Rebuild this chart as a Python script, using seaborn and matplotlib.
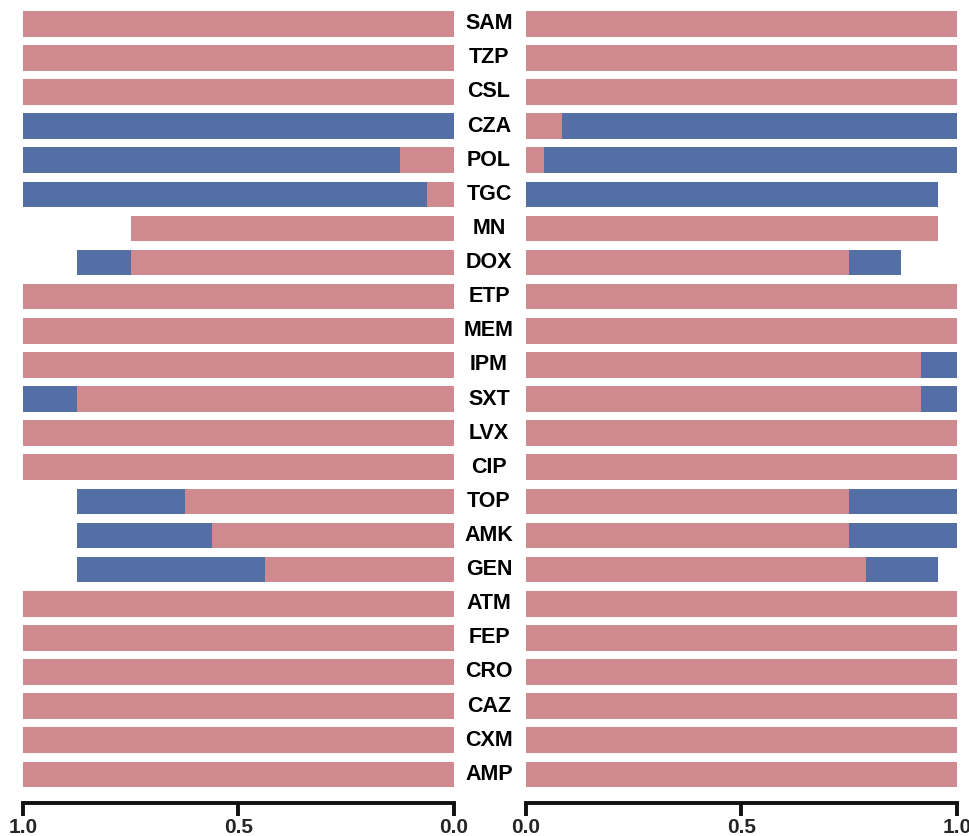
import numpy as np
import pandas as pd
import matplotlib
matplotlib.use("Agg")
import matplotlib.pyplot as plt
import matplotlib.transforms as mtransforms
import seaborn as sns

drugs = ["SAM", "TZP", "CSL", "CZA", "POL", "TGC", "MN", "DOX", "ETP", "MEM",
         "IPM", "SXT", "LVX", "CIP", "TOP", "AMK", "GEN", "ATM", "FEP", "CRO",
         "CAZ", "CXM", "AMP"]

# left panel (axis runs 1.0 -> 0.0)
left_pink = [1, 1, 1, 0, 0.125, 0.0625, 0.75, 0.75, 1, 1,
             1, 0.875, 1, 1, 0.625, 0.5625, 0.4375, 1, 1, 1,
             1, 1, 1]
left_blue = [0, 0, 0, 1, 0.875, 0.9375, 0, 0.125, 0, 0,
             0, 0.125, 0, 0, 0.25, 0.3125, 0.4375, 0, 0, 0,
             0, 0, 0]

# right panel (axis runs 0.0 -> 1.0)
right_pink = [1, 1, 1, 0.083, 0.042, 0, 0.955, 0.75, 1, 1,
              0.917, 0.917, 1, 1, 0.75, 0.75, 0.79, 1, 1, 1,
              1, 1, 1]
right_blue = [0, 0, 0, 0.917, 0.958, 0.955, 0, 0.12, 0, 0,
              0.083, 0.083, 0, 0, 0.25, 0.25, 0.165, 0, 0, 0,
              0, 0, 0]

ticks = [0.0, 0.5, 1.0]
tick_labels = ["0.0", "0.5", "1.0"]

PINK = "#CF8A90"
BLUE = "#536FA6"

sns.set_style("white")
plt.rcParams["font.family"] = ["Liberation Sans", "DejaVu Sans"]

fig = plt.figure(figsize=(9.70, 8.36), dpi=100)
W, H = 970, 836
ax_top_px, ax_bot_px = 6.7, 803
axL = fig.add_axes([23 / W, (H - ax_bot_px) / H, 431 / W, (ax_bot_px - ax_top_px) / H])
axR = fig.add_axes([526 / W, (H - ax_bot_px) / H, 431 / W, (ax_bot_px - ax_top_px) / H])


def draw_panel(ax, pink, blue):
    df = pd.DataFrame({"drug": drugs,
                       "pink": pink,
                       "total": np.array(pink) + np.array(blue)})
    # stacked bars: the blue segment sits after the pink one
    sns.barplot(data=df, y="drug", x="total", orient="h", color=BLUE,
                saturation=1, width=0.75, ax=ax, order=drugs, linewidth=0)
    sns.barplot(data=df, y="drug", x="pink", orient="h", color=PINK,
                saturation=1, width=0.75, ax=ax, order=drugs, linewidth=0)
    ax.set_ylim(22.84, -0.5)
    ax.set_yticks([])
    ax.set_xlabel("")
    ax.set_ylabel("")
    for side in ("top", "left", "right"):
        ax.spines[side].set_visible(False)
    ax.spines["bottom"].set_linewidth(2.8)
    ax.spines["bottom"].set_color("#111111")
    ax.set_xticks(ticks)
    ax.set_xticklabels(tick_labels, fontsize=15, fontweight="bold",
                       family=["Liberation Sans Narrow", "Liberation Sans", "DejaVu Sans"])
    ax.tick_params(axis="x", bottom=True, direction="out", length=9, width=2.8,
                   color="#111111", pad=2)


draw_panel(axL, left_pink, left_blue)
axL.set_xlim(1.0, 0.0)
draw_panel(axR, right_pink, right_blue)
axR.set_xlim(0.0, 1.0)

# drug names centred between the two panels
trans = mtransforms.blended_transform_factory(fig.transFigure, axR.transData)
for i, d in enumerate(drugs):
    fig.text(489 / W, i, d, transform=trans, ha="center", va="center",
             fontsize=15.5, fontweight="bold", color="black")

fig.savefig("out.png", dpi=100)
